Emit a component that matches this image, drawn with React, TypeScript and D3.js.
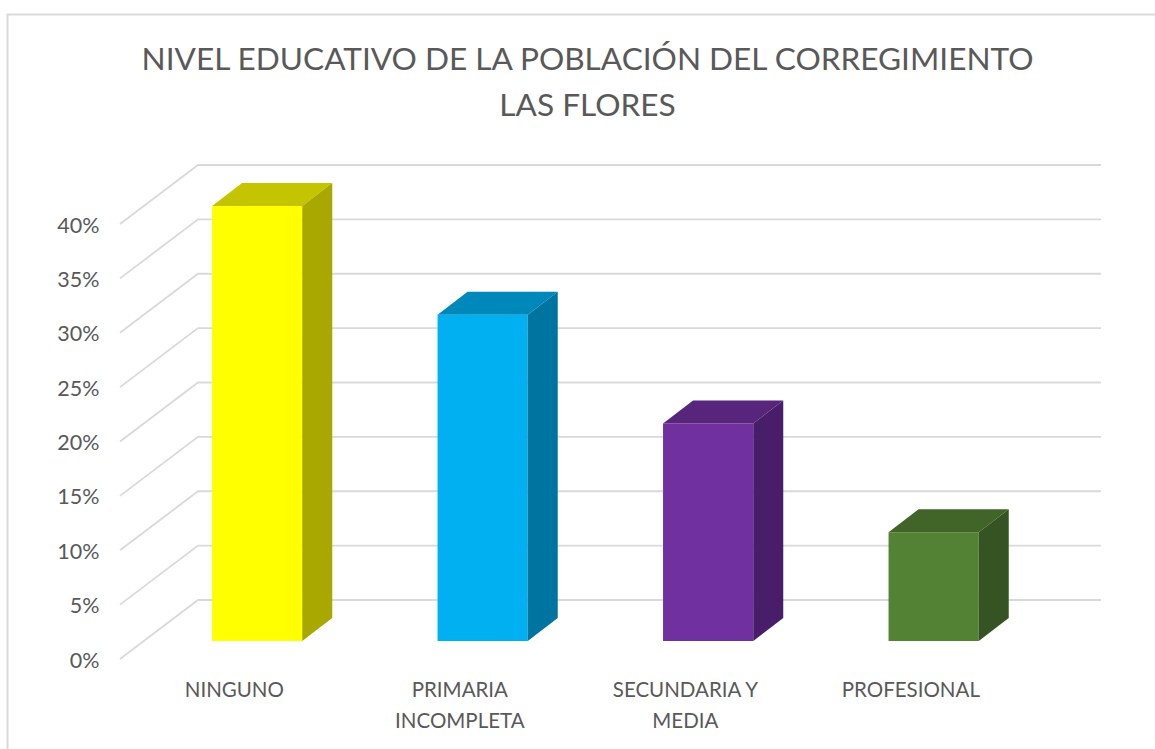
import React from 'react';
import * as d3 from 'd3';

const categories = ['NINGUNO', 'PRIMARIA INCOMPLETA', 'SECUNDARIA Y MEDIA', 'PROFESIONAL'];
const values = [40, 30, 20, 10];
const ticks = [0, 5, 10, 15, 20, 25, 30, 35, 40];
const titleLines = ['NIVEL EDUCATIVO DE LA POBLACIÓN DEL CORREGIMIENTO', 'LAS FLORES'];
const labelLines = [['NINGUNO'], ['PRIMARIA', 'INCOMPLETA'], ['SECUNDARIA Y', 'MEDIA'], ['PROFESIONAL']];
const frontColors = ['#ffff00', '#00b0f0', '#7030a0', '#548235'];
const topColors = ['#c4c400', '#0088ba', '#57257c', '#416529'];
const sideColors = ['#a8a800', '#0074a0', '#481d69', '#365423'];

const width = 1155, height = 749;
const font = 'Lato, "Open Sans", sans-serif';
const textColor = '#595959';
const gridColor = '#d9d9d9';

// oblique offset of the 3D look
const gridDx = 78, gridDy = -59;
const barDx = 30, barDy = -23;
const gridLeft = 120, gridRight = 1101;

const App: React.FC = () => {
    const y = d3.scaleLinear().domain([0, 40]).range([641, 206]);
    const x = d3.scaleBand<string>().domain(categories).range([144.4, 1046.4]).paddingInner(0.6).paddingOuter(0.3);
    // grid starts 18px below the front of the bars
    const gy = (v: number) => y(v) + 18;

    return (
        <svg width={width} height={height} style={{ position: 'absolute', left: 0, top: 0, background: '#fff' }}>
            <path d={`M7.5,${height} V14.5 H${width}`} fill="none" stroke={gridColor} strokeWidth={2} />

            {titleLines.map((t, i) => (
                <text key={t} x={587.5} y={70 + i * 46} textAnchor="middle" fontFamily={font} fontSize={31.6} fill={textColor}>{t}</text>
            ))}

            {ticks.map(t => (
                <g key={t}>
                    <path d={`M${gridLeft},${gy(t)} L${gridLeft + gridDx},${gy(t) + gridDy} H${gridRight}`} fill="none" stroke={gridColor} strokeWidth={1.8} />
                    <text x={99.5} y={gy(t) + 8.5} textAnchor="end" fontFamily={font} fontSize={21.5} fill={textColor}>{t}%</text>
                </g>
            ))}

            {categories.map((c, i) => {
                const x0 = x(c)!, w = x.bandwidth(), top = y(values[i]), bottom = y(0);
                return (
                    <g key={c}>
                        <rect x={x0} y={top} width={w} height={bottom - top} fill={frontColors[i]} />
                        <path d={`M${x0},${top} l${barDx},${barDy} h${w} l${-barDx},${-barDy} Z`} fill={topColors[i]} />
                        <path d={`M${x0 + w},${top} l${barDx},${barDy} V${bottom + barDy} l${-barDx},${-barDy} Z`} fill={sideColors[i]} />
                        {labelLines[i].map((l, j) => (
                            <text key={l} x={x0 + w / 2 - 22.8} y={697 + j * 31} textAnchor="middle" fontFamily={font} fontSize={20.5} fill={textColor}>{l}</text>
                        ))}
                    </g>
                );
            })}
        </svg>
    );
};

export default App;
